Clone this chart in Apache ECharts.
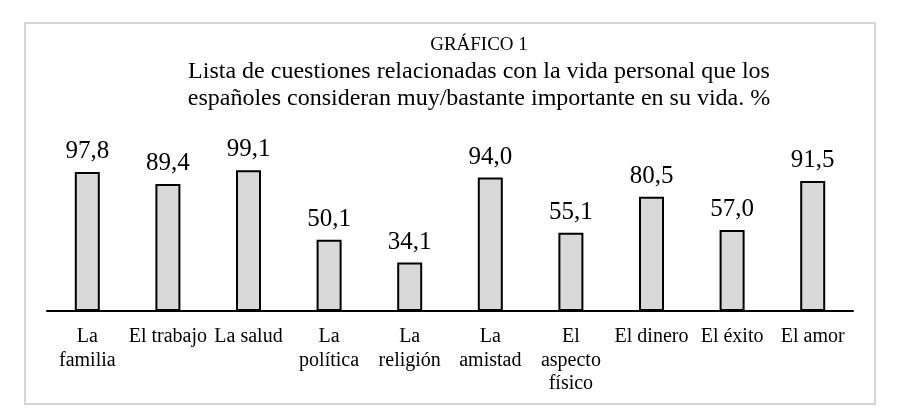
<!DOCTYPE html>
<html>
<head>
<meta charset="utf-8">
<script src="https://cdn.jsdelivr.net/npm/echarts@6/dist/echarts.min.js"></script>
<style>html,body{margin:0;padding:0;background:#fff;}#c{width:906px;height:418px;}</style>
</head>
<body>
<div id="c"></div>
<script>
const categories = ["La\nfamilia", "El trabajo", "La salud", "La\npolítica", "La\nreligión", "La\namistad", "El\naspecto\nfísico", "El dinero", "El éxito", "El amor"];
const values = [97.8, 89.4, 99.1, 50.1, 34.1, 94.0, 55.1, 80.5, 57.0, 91.5];
const supTitle = "GRÁFICO 1";
const mainTitle = "Lista de cuestiones relacionadas con la vida personal que los\nespañoles consideran muy/bastante importante en su vida. %";

const font = "Liberation Serif";
const chart = echarts.init(document.getElementById('c'), null, {renderer: 'canvas'});
chart.setOption({
  backgroundColor: '#fff',
  animation: false,
  graphic: [{
    type: 'rect', shape: {x: 25, y: 23, width: 850, height: 381},
    style: {fill: 'none', stroke: '#d6d6d6', lineWidth: 2}, silent: true, z: -1
  }],
  title: [{
    text: supTitle, left: 474, top: 30, textAlign: 'center',
    textStyle: {fontFamily: font, fontSize: 19, fontWeight: 'normal', color: '#000', lineHeight: 20}
  }, {
    text: mainTitle, left: 474, top: 53, textAlign: 'center',
    textStyle: {fontFamily: font, fontSize: 24, fontWeight: 'normal', color: '#000', lineHeight: 27}
  }],
  grid: {left: 47, right: 53, top: 169, bottom: 107, containLabel: false},
  xAxis: {
    type: 'category', data: categories,
    axisLine: {show: true, lineStyle: {color: '#000', width: 2}},
    axisTick: {show: false},
    axisLabel: {interval: 0, margin: 14, fontFamily: font, fontSize: 20, color: '#000', lineHeight: 23.5, align: 'center'}
  },
  yAxis: {
    type: 'value', min: 0, max: 100, show: false, splitLine: {show: false}
  },
  series: [{
    type: 'bar', data: values, barWidth: 25,
    itemStyle: {color: '#d9d9d9', borderColor: '#000', borderWidth: 2},
    label: {
      show: true, position: 'top', distance: 8,
      fontFamily: font, fontSize: 25, color: '#000',
      formatter: p => p.value.toFixed(1).replace('.', ',')
    }
  }]
});
</script>
</body>
</html>
